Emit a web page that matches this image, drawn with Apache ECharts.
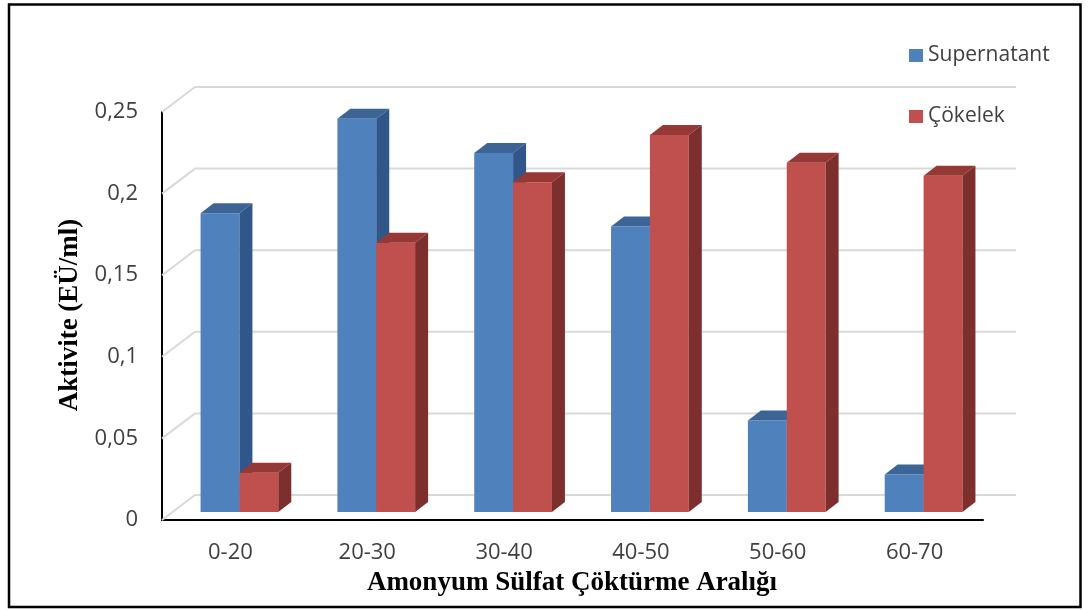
<!DOCTYPE html>
<html>
<head>
<meta charset="utf-8">
<script src="https://cdn.jsdelivr.net/npm/echarts@6/dist/echarts.min.js"></script>
<style>
  html, body { margin: 0; padding: 0; background: #fff; }
  #chart { width: 1088px; height: 610px; }
</style>
</head>
<body>
<div id="chart"></div>
<script>
// Activity by ammonium sulfate precipitation range
const categories = ['0-20', '20-30', '30-40', '40-50', '50-60', '60-70'];
const supernatant = [0.183, 0.241, 0.220, 0.175, 0.056, 0.023];
const cokelek = [0.024, 0.165, 0.202, 0.231, 0.214, 0.206];
const seriesNames = ['Supernatant', 'Çökelek'];
const yTickValues = [0, 0.05, 0.1, 0.15, 0.2, 0.25];
const yTickLabels = ['0', '0,05', '0,1', '0,15', '0,2', '0,25'];
const xTitle = 'Amonyum Sülfat Çöktürme Aralığı';
const yTitle = 'Aktivite (EÜ/ml)';

// Oblique "3D" look: back wall offset, bar front-plane offset and bar depth (px)
const WALL_DX = 33, WALL_DY = -25;
const BAR_DX = 9, BAR_DY = -8;
const BOX_DX = 13, BOX_DY = -10;
const BAR_FRAC = 0.284;

const palettes = [
  { front: '#4F81BD', top: '#3C6595', side: '#31578A' },
  { front: '#C0504D', top: '#963836', side: '#7D2F2E' }
];

const TEXT = '#404040';
const SANS = '"Open Sans", "Noto Sans", sans-serif';
const SERIF = '"Liberation Serif", "DejaVu Serif", serif';

function barRenderer(idx) {
  const pal = palettes[idx];
  return function (params, api) {
    const cat = api.value(0);
    const val = api.value(1);
    const base = api.coord([cat, 0]);
    const top = api.coord([cat, val]);
    const w = api.size([1, 0])[0] * BAR_FRAC;
    const xl = base[0] + BAR_DX + (idx === 0 ? -w : 0);
    const xr = xl + w;
    const yb = base[1] + BAR_DY;
    const yt = top[1] + BAR_DY;
    return {
      type: 'group',
      children: [
        { type: 'rect', shape: { x: xl, y: yt, width: w, height: yb - yt },
          style: { fill: pal.front } },
        { type: 'polygon',
          shape: { points: [[xl, yt], [xr, yt], [xr + BOX_DX, yt + BOX_DY], [xl + BOX_DX, yt + BOX_DY]] },
          style: { fill: pal.top } },
        { type: 'polygon',
          shape: { points: [[xr, yt], [xr + BOX_DX, yt + BOX_DY], [xr + BOX_DX, yb + BOX_DY], [xr, yb]] },
          style: { fill: pal.side } }
      ]
    };
  };
}

function wallRenderer(params, api) {
  const cs = params.coordSys;
  const y = api.coord([0, api.value(1)])[1];
  const x0 = cs.x, x1 = cs.x + cs.width;
  return {
    type: 'polyline',
    shape: { points: [[x0, y], [x0 + WALL_DX, y + WALL_DY], [x1 + WALL_DX, y + WALL_DY]] },
    style: { stroke: '#D9D9D9', lineWidth: 2, fill: null }
  };
}

const chart = echarts.init(document.getElementById('chart'), null, { renderer: 'canvas' });

chart.setOption({
  backgroundColor: '#ffffff',
  animation: false,
  grid: { left: 162, right: 105, top: 112, bottom: 90, containLabel: false, outerBoundsMode: 'none' },
  legend: {
    data: seriesNames,
    orient: 'vertical',
    left: 904,
    top: 40,
    icon: 'rect',
    itemWidth: 14,
    itemHeight: 13,
    itemGap: 40,
    textStyle: { fontFamily: SANS, fontSize: 21, color: TEXT, lineHeight: 20 }
  },
  xAxis: {
    type: 'category',
    data: categories,
    boundaryGap: true,
    axisLine: { show: true, lineStyle: { color: '#000', width: 2 } },
    axisTick: { show: false },
    axisLabel: { fontFamily: SANS, fontSize: 22, color: TEXT, margin: 22 },
    splitLine: { show: false }
  },
  yAxis: {
    type: 'value',
    min: yTickValues[0],
    max: yTickValues[yTickValues.length - 1],
    interval: 0.05,
    axisLine: { show: true, lineStyle: { color: '#000', width: 2 } },
    axisTick: { show: false },
    splitLine: { show: false },
    axisLabel: {
      fontFamily: SANS, fontSize: 22, color: TEXT, margin: 24,
      formatter: function (v) {
        const i = yTickValues.findIndex(t => Math.abs(t - v) < 1e-9);
        return i >= 0 ? yTickLabels[i] : '';
      }
    }
  },
  graphic: [
    { type: 'rect', shape: { x: 9, y: 4.5, width: 1071.5, height: 602.5 },
      style: { fill: null, stroke: '#000', lineWidth: 2.5 }, z: 10 },
    { type: 'text', x: 572, y: 583,
      style: { text: xTitle, font: 'bold 27px ' + SERIF, fill: '#000', align: 'center', verticalAlign: 'middle' } },
    { type: 'text', x: 70, y: 315, rotation: Math.PI / 2,
      style: { text: yTitle, font: 'bold 27px ' + SERIF, fill: '#000', align: 'center', verticalAlign: 'middle' } }
  ],
  series: [
    {
      type: 'custom', name: 'wall', silent: true, z: 1,
      renderItem: wallRenderer,
      data: yTickValues.map(v => [0, v])
    },
    {
      type: 'custom', name: seriesNames[0], z: 2,
      itemStyle: { color: palettes[0].front },
      renderItem: barRenderer(0),
      data: supernatant.map((v, i) => [i, v])
    },
    {
      type: 'custom', name: seriesNames[1], z: 2,
      itemStyle: { color: palettes[1].front },
      renderItem: barRenderer(1),
      data: cokelek.map((v, i) => [i, v])
    }
  ]
});
</script>
</body>
</html>
